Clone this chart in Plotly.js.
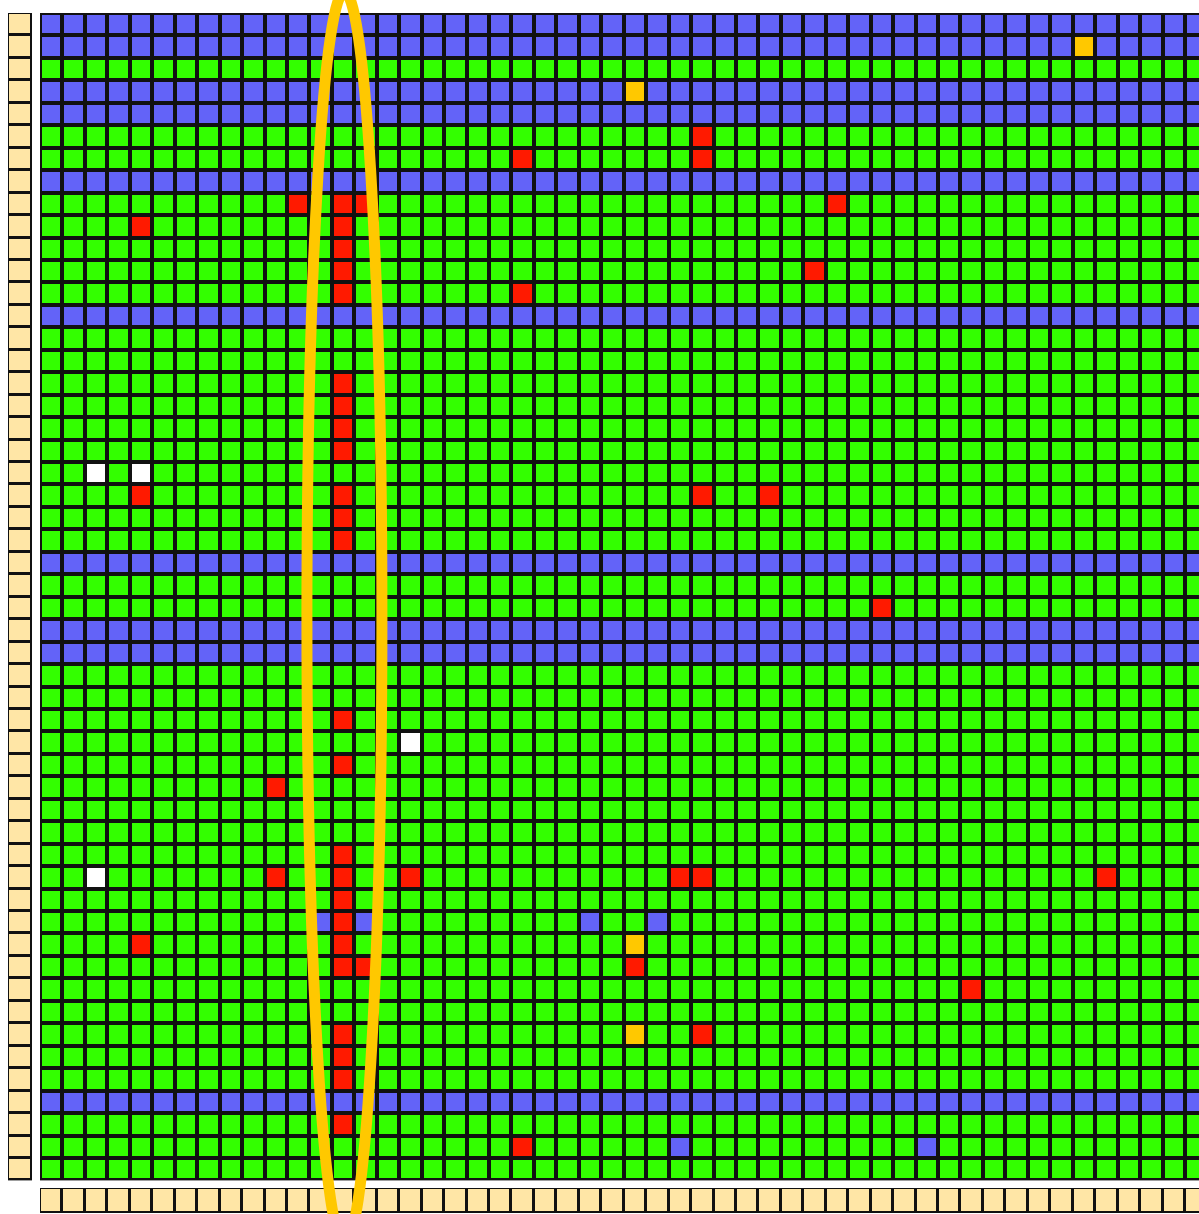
<!DOCTYPE html>
<html><head><meta charset="utf-8">
<script src="https://cdn.plot.ly/plotly-3.0.1.min.js"></script>
<style>html,body{margin:0;padding:0;background:#fff}#chart{width:1199px;height:1214px}</style>
</head><body><div id="chart"></div>
<script>
// ---- data ----
const nRows = 52;
const nCols = 52;
const blueRows = [0,1,3,4,7,13,24,27,28,48];
const redCells = [[5,29],[6,21],[6,29],[8,11],[8,13],[8,14],[8,35],[9,4],[9,13],[10,13],[11,13],[11,34],
  [12,13],[12,21],[16,13],[17,13],[18,13],[19,13],[21,4],[21,13],[21,29],[21,32],[22,13],[23,13],[26,37],
  [31,13],[33,13],[34,10],[37,13],[38,10],[38,13],[38,16],[38,28],[38,29],[38,47],[39,13],[40,13],[41,4],
  [41,13],[42,13],[42,14],[42,26],[43,41],[45,13],[45,29],[46,13],[47,13],[49,13],[50,21]];
const yellowCells = [[1,46],[3,26],[41,26],[45,26]];
const whiteCells = [[20,2],[20,4],[32,16],[38,2]];
const blueCells = [[40,12],[40,14],[40,24],[40,27],[50,28],[50,39]];
const highlightCol = 13;

// ---- styles ----
const stateColors = ['#33FF00','#6363F8','#FF1A00','#FFC800','#FFFFFF']; // green, blue, red, yellow, white
const beige = '#FFE6A6';
const ringColor = '#FFC800';

const rows = Array.from({length:nRows},(_,i)=>i);
const cols = Array.from({length:nCols},(_,i)=>i);
const z = rows.map(r => cols.map(() => blueRows.includes(r) ? 1 : 0));
redCells.forEach(([r,c]) => z[r][c] = 2);
yellowCells.forEach(([r,c]) => z[r][c] = 3);
whiteCells.forEach(([r,c]) => z[r][c] = 4);
blueCells.forEach(([r,c]) => z[r][c] = 1);

const cs = [];
stateColors.forEach((col,i) => {
  cs.push([i/stateColors.length, col]);
  cs.push([(i+1)/stateColors.length, col]);
});

const W = 1199, H = 1214, PITCH = 22.45, GX0 = 40, GY0 = 13;
const xr = [-0.5, -0.5 + (W - GX0)/PITCH];
const gridBottom = GY0 + nRows*PITCH;

const traces = [
  {type:'heatmap', x:cols, y:rows, z:z, zmin:-0.5, zmax:4.5, colorscale:cs, showscale:false,
   xgap:4, ygap:4, hoverinfo:'skip', xaxis:'x', yaxis:'y'},
  {type:'heatmap', x:[0], y:rows, z:rows.map(()=>[0]), colorscale:[[0,beige],[1,beige]], showscale:false,
   xgap:3, ygap:3, hoverinfo:'skip', xaxis:'x2', yaxis:'y'},
  {type:'heatmap', x:cols, y:[0], z:[cols.map(()=>0)], colorscale:[[0,beige],[1,beige]], showscale:false,
   xgap:3, ygap:3, hoverinfo:'skip', xaxis:'x', yaxis:'y3'}
];

const hidden = {visible:false, showgrid:false, zeroline:false, fixedrange:true};
const aUnits = 37.5/PITCH;
const yTopRow = -1.43, yBotRow = 54.3;
const xd = v => (v - xr[0])/(xr[1]-xr[0]);
const yd = v => (nRows - 0.5 - v)/nRows;

const layout = {
  width:W, height:H, margin:{l:0,r:0,t:0,b:0},
  paper_bgcolor:'#FFFFFF', plot_bgcolor:'#111111', showlegend:false,
  xaxis:Object.assign({domain:[GX0/W, 1], range:xr, anchor:'y'}, hidden),
  yaxis:Object.assign({domain:[1-gridBottom/H, 1-GY0/H], range:[nRows-0.5,-0.5], anchor:'x'}, hidden),
  xaxis2:Object.assign({domain:[8/W, 32/W], range:[-0.5,0.5], anchor:'y'}, hidden),
  yaxis3:Object.assign({domain:[1-1213/H, 1-1188/H], range:[-0.5,0.5], anchor:'x'}, hidden),
  shapes:[{type:'circle', xref:'x domain', yref:'y domain', layer:'above',
    x0:xd(highlightCol+0.06-aUnits), x1:xd(highlightCol+0.06+aUnits),
    y0:yd(yBotRow), y1:yd(yTopRow),
    line:{color:ringColor, width:11}, fillcolor:'rgba(0,0,0,0)'}]
};

Plotly.newPlot('chart', traces, layout, {displayModeBar:false, staticPlot:true});
</script></body></html>
